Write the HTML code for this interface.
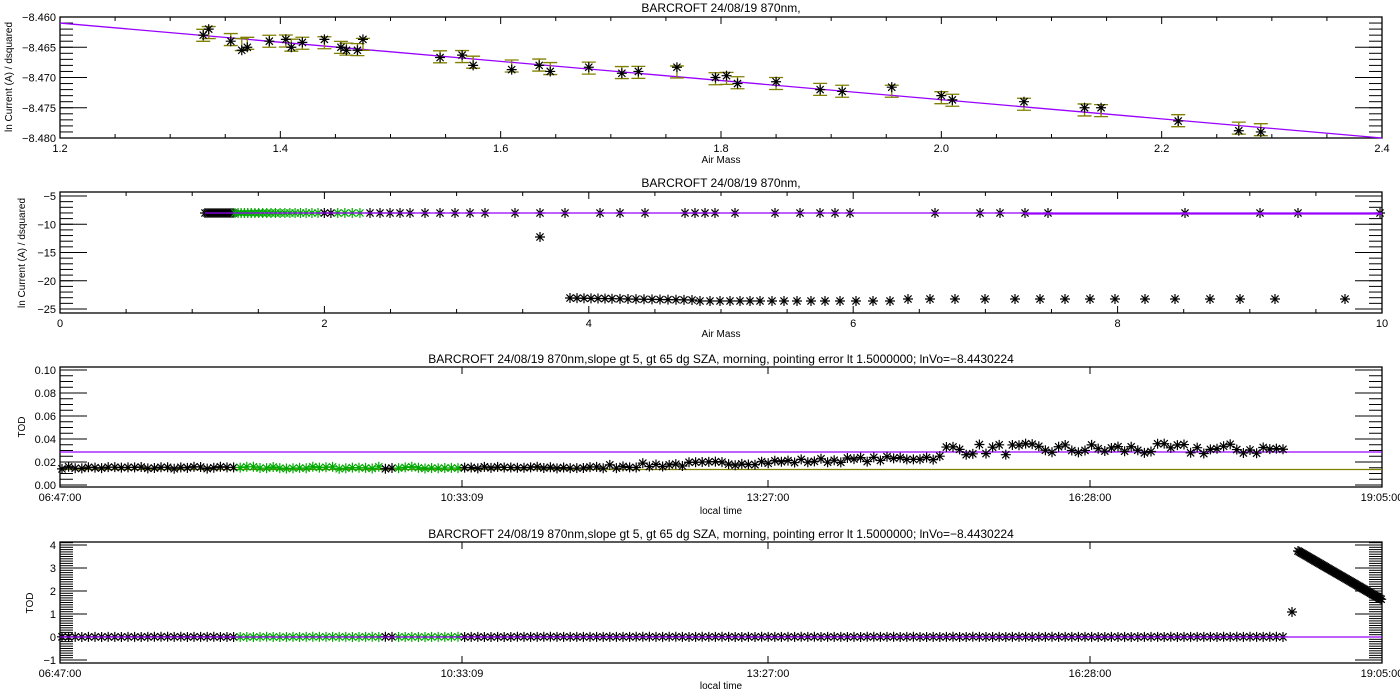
<!DOCTYPE html>
<html><head><meta charset="utf-8"><style>
html,body{margin:0;padding:0;background:#fff;}
svg{display:block;font-family:"Liberation Sans",sans-serif;}
</style></head><body>
<svg id="s" width="1400" height="700" xmlns="http://www.w3.org/2000/svg"></svg>
<script>
const S=document.getElementById('s');let out='';
const L=60,R=1382;
let seed=7;function rnd(){seed=(seed*16807)%2147483647;return seed/2147483647;}
function line(x1,y1,x2,y2,c,w){out+=`<line x1="${x1}" y1="${y1}" x2="${x2}" y2="${y2}" stroke="${c||'#000'}" stroke-width="${w||1}"/>`;}
function text(x,y,t,a,sz,extra){out+=`<text x="${x}" y="${y}" font-size="${sz||11}" text-anchor="${a||'middle'}" ${extra||''}>${t}</text>`;}
function star(x,y,c){c=c||'#000';const r=5;
 out+=`<path d="M${x-r} ${y}H${x+r}M${x} ${y-r}V${y+r}M${x-3.6} ${y-3.6}L${x+3.6} ${y+3.6}M${x-3.6} ${y+3.6}L${x+3.6} ${y-3.6}" stroke="${c}" stroke-width="1.2"/>`;}
function box(t,b){out+=`<rect x="${L}" y="${t}" width="${R-L}" height="${b-t}" fill="none" stroke="#000" stroke-width="1.3"/>`;}
function yticks(t,b,ymaj,fy,labels,nminor,minorStep){
 // majors
 labels.forEach(v=>{const y=fy(v);line(L,y,L+27,y);line(R-27,y,R,y);text(L-4,y+4,v.lab,'end',11);});
 for(let v=minorStep.from;v<=minorStep.to+1e-9;v+=minorStep.step){const y=fy(v);if(y<t-0.5||y>b+0.5)continue;line(L,y,L+13,y);line(R-13,y,R,y);}
}
function xticks(t,b,xs){xs.forEach(p=>{line(p.x,b,p.x,b-(p.maj?7:4));line(p.x,t,p.x,t+(p.maj?7:4));if(p.lab!==undefined)text(p.x,b+14,p.lab,'middle',11);});}
// ---------- Panel 1 ----------
{const t=17,b=138;const fx=v=>L+(v-1.2)/1.2*(R-L);const fy=v=>t+(-8.460-v)/0.020*(b-t);
text(721,12,'BARCROFT 24/08/19 870nm,','middle',12);
box(t,b);
yticks(t,b,0,fy,[-8.460,-8.465,-8.470,-8.475,-8.480].map(v=>({v,lab:v.toFixed(3).replace('-','−')})).map(o=>Object.assign(o,{valueOf(){return o.v}})),0,{from:-8.480,to:-8.460,step:0.001});
let xs=[];for(let v=1.2;v<=2.4001;v+=0.05){const maj=Math.abs((v*10)%2)<0.01||Math.abs((v*10)%2-2)<0.01;xs.push({x:fx(v),maj,lab:maj?v.toFixed(1):undefined});}
xticks(t,b,xs);
text(721,163,'Air Mass','middle',10);
text(12,77,'ln Current (A) / dsquared','middle',10,'transform="rotate(-90 12 77)"');
line(L,fy(-8.461),R,fy(-8.4800),'#9900ff',1.3);
const P=[[1.33,-8.463],[1.335,-8.462],[1.355,-8.464],[1.365,-8.4655],[1.37,-8.465],[1.39,-8.464],[1.405,-8.4637],[1.41,-8.465],[1.42,-8.4642],[1.44,-8.4637],[1.455,-8.465],[1.46,-8.4655],[1.47,-8.4655],[1.475,-8.4637],[1.545,-8.4667],[1.565,-8.4663],[1.575,-8.468],[1.61,-8.4687],[1.635,-8.468],[1.645,-8.469],[1.68,-8.4683],[1.71,-8.4693],[1.725,-8.469],[1.76,-8.4683],[1.795,-8.470],[1.805,-8.4697],[1.815,-8.471],[1.85,-8.4707],[1.89,-8.472],[1.91,-8.4723],[1.955,-8.4716],[2.0,-8.473],[2.01,-8.4737],[2.075,-8.474],[2.13,-8.475],[2.145,-8.475],[2.215,-8.4772],[2.27,-8.4788],[2.29,-8.479]];
P.forEach(p=>{const x=fx(p[0]);const lv=-8.461-(p[0]-1.2)/1.2*0.019;const yc=fy((lv+p[1])/2);const h=6;
 out+=`<path d="M${x} ${yc-h}V${yc+h}M${x-7} ${yc-h}H${x+7}M${x-7} ${yc+h}H${x+7}" stroke="#808000" stroke-width="1.3" fill="none"/>`;});
P.forEach(p=>star(fx(p[0]),fy(p[1])));
}
// ---------- Panel 2 ----------
{const t=192,b=313;const fx=v=>L+v/10*(R-L);const fy=v=>196+(-5-v)*5.65;
text(721,187,'BARCROFT 24/08/19 870nm,','middle',12);
box(t,b);
[-5,-10,-15,-20,-25].forEach(v=>{const y=fy(v);line(L,y,L+27,y);line(R-27,y,R,y);text(L-4,y+4,String(v).replace('-','−'),'end',11);});
for(let v=-25;v<=-4.5;v+=1){const y=fy(v);line(L,y,L+13,y);line(R-13,y,R,y);}
let xs=[];for(let v=0;v<=10;v+=0.5){const maj=v%2===0;xs.push({x:fx(v),maj,lab:maj?String(v):undefined});}
xticks(t,b,xs);
text(721,337,'Air Mass','middle',10);
text(25,253,'ln Current (A) / dsquared','middle',10,'transform="rotate(-90 25 253)"');
const y0=213;
for(let x=205;x<235;x+=2)star(x,y0);
for(let x=235;x<=362;x+=3+(x-235)/25)star(x,y0,x>320&&((x|0)%3==0)?'#000':'#00aa00');
[370,380,390,400,410,425,440,455,470,485,515,540,565,600,620,645,685,695,705,715,735,775,800,820,835,850,935,980,1000,1025,1048,1185,1260,1298,1380].forEach(x=>star(x,y0));
line(205,y0,R,y0,'#9900ff',1.2);
line(1025,y0+1,R,y0+1,'#9900ff',1.2);
star(540,237);
[570,577,584,591,598,605,612,620,628,636,644,652,660,668,676,684,692,700,710,720,730,740,750,760,772,784,797,811,825,840,856,873,890,908,930,955,985,1015,1040,1065,1090,1115,1145,1175,1210,1240,1275,1345].forEach((x,i)=>star(x,x<700?298+(x-570)/60:(x<900?301:299)));
}
// time axis helper
function timeTicks(t,b){const xs=[];const maj=[[60,'06:47:00'],[462,'10:33:09'],[768,'13:27:00'],[1090,'16:28:00'],[1382,'19:05:00']];
 maj.forEach(m=>xs.push({x:m[0],maj:true,lab:m[1]}));
 xticks(t,b,xs);}
function timeSeries(t,b,fyBase,extra){
 for(let x=62;x<=1287;x+=6.6){let g=(x>240&&x<385)||(x>395&&x<462);
  const [y,c]=fyBase(x);star(x,y,g?'#00aa00':'#000');}
}
// ---------- Panel 3 ----------
{const t=367,b=487;const fy=v=>485-v*1150;
text(721,363,'BARCROFT 24/08/19 870nm,slope gt 5, gt 65 dg SZA, morning, pointing error lt 1.5000000; lnVo=−8.4430224','middle',12);
box(t,b);
[0,0.02,0.04,0.06,0.08,0.10].forEach(v=>{const y=fy(v);line(L,y,L+27,y);line(R-27,y,R,y);text(L-4,y+4,v.toFixed(2),'end',11);});
for(let v=0;v<=0.1001;v+=0.005){const y=fy(v);line(L,y,L+13,y);line(R-13,y,R,y);}
timeTicks(t,b);
text(721,514,'local time','middle',10);
text(25,427,'TOD','middle',10,'transform="rotate(-90 25 427)"');
line(L,452,R,452,'#9900ff',1.3);
line(L,469.5,R,469.5,'#808000',1.3);
timeSeries(t,b,x=>{let v;if(x<600)v=0.014+rnd()*0.002;else if(x<940)v=0.014+(x-600)/340*0.008+rnd()*0.004;else v=0.026+rnd()*0.01;return [fy(v),0];});
}
// ---------- Panel 4 ----------
{const t=542,b=663;const fy=v=>637-v*23;
text(721,538,'BARCROFT 24/08/19 870nm,slope gt 5, gt 65 dg SZA, morning, pointing error lt 1.5000000; lnVo=−8.4430224','middle',12);
box(t,b);
[-1,0,1,2,3,4].forEach(v=>{const y=fy(v);line(L,y,L+27,y);line(R-27,y,R,y);text(L-4,y+4,String(v).replace('-','−'),'end',11);});
for(let v=-1;v<=4.2;v+=0.1){const y=fy(v);line(L,y,L+13,y);line(R-13,y,R,y);}
timeTicks(t,b);
text(721,689,'local time','middle',10);
text(33,603,'TOD','middle',10,'transform="rotate(-90 33 603)"');
timeSeries(t,b,x=>[fy(0.01*rnd()),0]);
line(L,637,R,637,'#9900ff',1.3);
star(1292,612);
for(let x=1298;x<=1382;x+=1.3){star(x,551+(x-1298)*0.58);}
}
S.innerHTML=out;
</script>
</body></html>
